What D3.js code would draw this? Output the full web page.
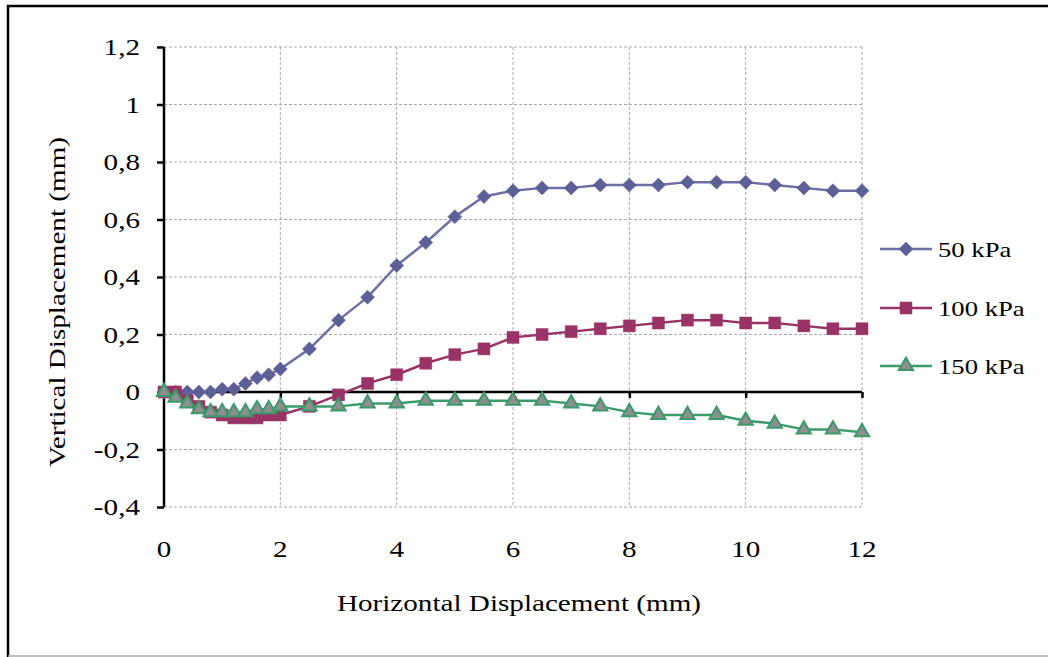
<!DOCTYPE html>
<html>
<head>
<meta charset="utf-8">
<script src="https://cdn.jsdelivr.net/npm/d3@7"></script>
<style>
  html, body { margin: 0; padding: 0; background: #fff; }
  svg { display: block; }
  text { font-family: "Liberation Serif", "Times New Roman", serif; fill: #000; }
</style>
</head>
<body>
<svg id="chart" width="1048" height="657"></svg>
<script>
// Horizontal displacement (mm) at each reading
const xValues = [0, 0.2, 0.4, 0.6, 0.8, 1, 1.2, 1.4, 1.6, 1.8, 2,
  2.5, 3, 3.5, 4, 4.5, 5, 5.5, 6, 6.5, 7, 7.5, 8, 8.5, 9, 9.5, 10, 10.5, 11, 11.5, 12];

// Vertical displacement (mm) per normal stress
const kpa50 = [0, 0, 0, 0, 0, 0.01, 0.01, 0.03, 0.05, 0.06, 0.08,
  0.15, 0.25, 0.33, 0.44, 0.52, 0.61, 0.68, 0.70, 0.71, 0.71, 0.72, 0.72, 0.72, 0.73, 0.73, 0.73, 0.72, 0.71, 0.70, 0.70];
const kpa100 = [0, 0, -0.03, -0.05, -0.07, -0.08, -0.09, -0.09, -0.09, -0.08, -0.08,
  -0.05, -0.01, 0.03, 0.06, 0.10, 0.13, 0.15, 0.19, 0.20, 0.21, 0.22, 0.23, 0.24, 0.25, 0.25, 0.24, 0.24, 0.23, 0.22, 0.22];
const kpa150 = [0, -0.02, -0.04, -0.06, -0.07, -0.07, -0.07, -0.07, -0.06, -0.06, -0.05,
  -0.05, -0.05, -0.04, -0.04, -0.03, -0.03, -0.03, -0.03, -0.03, -0.04, -0.05, -0.07, -0.08, -0.08, -0.08, -0.10, -0.11, -0.13, -0.13, -0.14];

const seriesNames = ["50 kPa", "100 kPa", "150 kPa"];

const xTicks = [0, 2, 4, 6, 8, 10, 12];
const yTicks = [1.2, 1, 0.8, 0.6, 0.4, 0.2, 0, -0.2, -0.4];
const yTickLabels = ["1,2", "1", "0,8", "0,6", "0,4", "0,2", "0", "-0,2", "-0,4"];

const xTitle = "Horizontal Displacement (mm)";
const yTitle = "Vertical Displacement (mm)";

const svg = d3.select("#chart");
const W = 1048, H = 657;
const plot = { left: 164, right: 862, top: 47, bottom: 507 };
const stretch = 1.24; // serif text is set wide along its baseline
const fontSize = 23.5;

const x = d3.scaleLinear().domain([0, 12]).range([plot.left, plot.right]);
const y = d3.scaleLinear().domain([-0.4, 1.2]).range([plot.bottom, plot.top]);

// outer frame
svg.append("line").attr("x1", 8).attr("x2", 8).attr("y1", 5).attr("y2", H)
  .attr("stroke", "#000").attr("stroke-width", 2.5);
svg.append("line").attr("x1", 7).attr("x2", W).attr("y1", 6).attr("y2", 6)
  .attr("stroke", "#000").attr("stroke-width", 2.5);
svg.append("line").attr("x1", 8).attr("x2", W).attr("y1", 656).attr("y2", 656)
  .attr("stroke", "#aaa").attr("stroke-width", 1.5);

// grid
const grid = svg.append("g").attr("stroke", "#a8a8a8").attr("stroke-width", 1)
  .attr("stroke-dasharray", "3,2");
grid.selectAll("line.h").data(yTicks).join("line").attr("class", "h")
  .attr("x1", plot.left).attr("x2", plot.right)
  .attr("y1", d => y(d)).attr("y2", d => y(d));
grid.selectAll("line.v").data(xTicks.slice(1)).join("line").attr("class", "v")
  .attr("x1", d => x(d)).attr("x2", d => x(d))
  .attr("y1", plot.top).attr("y2", plot.bottom);

// y axis
const yAxis = d3.axisLeft(y).tickValues(yTicks).tickSize(7).tickFormat("");
const gy = svg.append("g").attr("transform", `translate(${plot.left},0)`).call(yAxis);
gy.select(".domain").attr("stroke", "#000").attr("stroke-width", 2.5)
  .attr("d", `M0,${plot.top}V${plot.bottom}`);
gy.selectAll(".tick line").attr("stroke", "#000").attr("stroke-width", 2.5);

// x axis along zero
const xAxis = d3.axisBottom(x).tickValues(xTicks).tickSize(6).tickFormat("");
const gx = svg.append("g").attr("transform", `translate(0,${y(0)})`).call(xAxis);
gx.select(".domain").attr("stroke", "#000").attr("stroke-width", 2.5)
  .attr("d", `M${plot.left},0H${plot.right}`);
gx.selectAll(".tick line").attr("stroke", "#000").attr("stroke-width", 2.5);

// helper for wide serif text
function wideText(parent, tx, ty, str, anchor, size, rotate) {
  const g = parent.append("g")
    .attr("transform", `translate(${tx},${ty})` + (rotate ? ` rotate(${rotate})` : ""));
  g.append("text")
    .attr("transform", `scale(${stretch},1)`)
    .attr("text-anchor", anchor)
    .attr("font-size", size)
    .text(str);
  return g;
}

// tick labels
yTicks.forEach((v, i) => {
  wideText(svg, plot.left - 24, y(v) + 8, yTickLabels[i], "end", fontSize);
});
xTicks.forEach(v => {
  wideText(svg, x(v), 557, String(v), "middle", fontSize);
});

// axis titles
wideText(svg, 519, 611, xTitle, "middle", fontSize);
wideText(svg, 65, 302, yTitle, "middle", fontSize, -90);

// square diamond marker
const diamond = {
  draw(ctx, size) {
    const r = Math.sqrt(size / 2);
    ctx.moveTo(0, -r); ctx.lineTo(r, 0); ctx.lineTo(0, r); ctx.lineTo(-r, 0); ctx.closePath();
  }
};

// series
const series = [
  { name: seriesNames[0], values: kpa50, line: "#6e6ea6", fill: "#5f5f98", stroke: "#5f5f98", shape: diamond, size: 98, sw: 0.5 },
  { name: seriesNames[1], values: kpa100, line: "#993366", fill: "#993366", stroke: "#993366", shape: d3.symbolSquare, size: 144, sw: 0.5 },
  { name: seriesNames[2], values: kpa150, line: "#3a9a6a", fill: "#8e8e8e", stroke: "#3a9a6a", shape: d3.symbolTriangle, size: 88, sw: 2 }
];

const lineGen = d3.line().x(d => x(d[0])).y(d => y(d[1]));

series.forEach(s => {
  const pts = xValues.map((xv, i) => [xv, s.values[i]]);
  const g = svg.append("g");
  g.append("path").datum(pts).attr("d", lineGen)
    .attr("fill", "none").attr("stroke", s.line).attr("stroke-width", 2.5)
    .attr("stroke-linejoin", "round");
  g.selectAll("path.m").data(pts).join("path").attr("class", "m")
    .attr("transform", d => `translate(${x(d[0])},${y(d[1])})`)
    .attr("d", d3.symbol(s.shape, s.size))
    .attr("fill", s.fill).attr("stroke", s.stroke)
    .attr("stroke-width", s.sw);
});

// legend
const legendRows = [249, 308, 366];
series.forEach((s, i) => {
  const ly = legendRows[i];
  svg.append("line").attr("x1", 880).attr("x2", 932).attr("y1", ly).attr("y2", ly)
    .attr("stroke", s.line).attr("stroke-width", 2.5);
  svg.append("path").attr("transform", `translate(906,${ly})`)
    .attr("d", d3.symbol(s.shape, s.size))
    .attr("fill", s.fill).attr("stroke", s.stroke)
    .attr("stroke-width", s.sw);
  wideText(svg, 938, ly + 8, s.name, "start", 21.5);
});
</script>
</body>
</html>
